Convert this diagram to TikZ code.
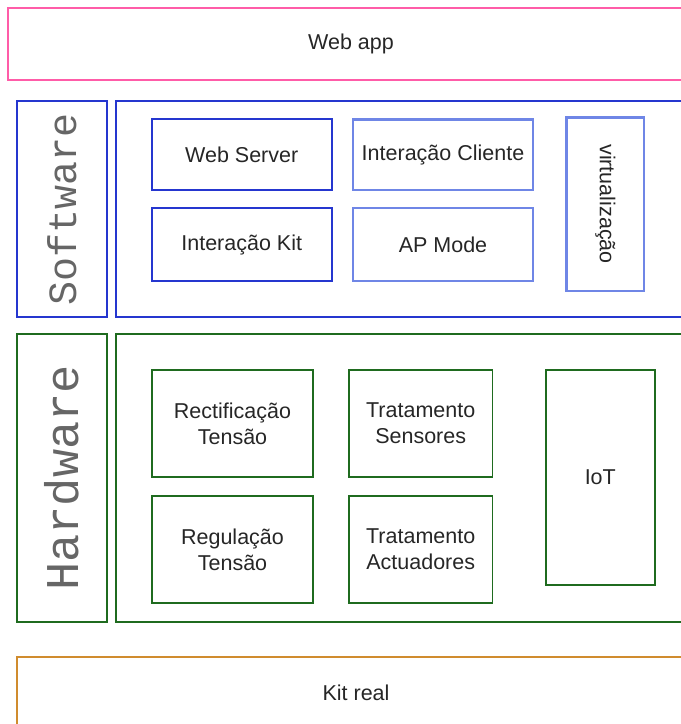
\documentclass[tikz,border=0pt]{standalone}
\usepackage{fontspec}
\setmainfont{Liberation Sans}
\newfontfamily\monolabel{Liberation Mono}

\definecolor{appPink}{HTML}{FF5CA8}
\definecolor{swBlue}{HTML}{2536CF}
\definecolor{swLight}{HTML}{6F86E6}
\definecolor{hwGreen}{HTML}{1F6B1F}
\definecolor{kitOrange}{HTML}{D08C2E}
\definecolor{txtGray}{HTML}{262626}

\tikzset{
  layer/.style={draw,line width=1.8pt,inner sep=0pt,text=txtGray,
    font=\fontsize{21.5}{26}\selectfont,align=center},
  swbox/.style={layer,draw=swBlue},
  swsoft/.style={layer,draw=swLight,line width=2.4pt},
  hwbox/.style={layer,draw=hwGreen},
  sidelabel/.style={inner sep=0pt,text=black!60,rotate=90},
}

\begin{document}
\begin{tikzpicture}[x=1pt,y=-1pt]
  \useasboundingbox (0,0) rectangle (681,724);
  \clip (0,0) rectangle (681,724);

  % top and bottom layers
  \node[layer,draw=appPink,line width=2pt,minimum width=686,minimum height=72] (webapp) at (351,44) {Web app};
  \node[layer,draw=kitOrange,minimum width=678,minimum height=72] (kitreal) at (356,693) {Kit real};

  % software
  \node[swbox,minimum width=90.6,minimum height=215.6] (swlabel) at (62,209) {};
  \node[sidelabel,font=\monolabel\fontsize{40}{40}\selectfont] at (swlabel.center) {Software};
  \node[swbox,minimum width=580,minimum height=215.6] (swarea) at (406,209) {};
  \node[swbox,minimum width=180,minimum height=70.7] (webserver) at (241.7,154.7) {Web Server};
  \node[swsoft,minimum width=180,minimum height=70.7] (cliente) at (443,154.7) {Interação Cliente};
  \node[swbox,minimum width=180,minimum height=72.5] (interkit) at (241.7,244.5) {Interação Kit};
  \node[swsoft,minimum width=180,minimum height=72.5] (apmode) at (443,244.5) {AP Mode};
  \node[swsoft,minimum width=77.3,minimum height=173.4] (virt) at (605.3,204) {};
  \node[text=txtGray,rotate=-90,font=\fontsize{21.5}{26}\selectfont] at (virt.center) {virtualização};

  % hardware
  \node[hwbox,minimum width=90.6,minimum height=287.7] (hwlabel) at (62,477.8) {};
  \node[sidelabel,font=\monolabel\fontsize{47}{47}\selectfont] at (hwlabel.center) {Hardware};
  \node[hwbox,minimum width=580,minimum height=287.7] (hwarea) at (406,477.8) {};
  \node[hwbox,minimum width=161.6,minimum height=107] (rectif) at (232.5,423.5) {Rectificação\\Tensão};
  \node[hwbox,minimum width=143.5,minimum height=107] (sensores) at (420.7,423.5) {Tratamento\\Sensores};
  \node[hwbox,minimum width=161.6,minimum height=107.6] (regul) at (232.5,549.5) {Regulação\\Tensão};
  \node[hwbox,minimum width=143.5,minimum height=107.6] (actuad) at (420.7,549.5) {Tratamento\\Actuadores};
  \node[hwbox,minimum width=108.7,minimum height=215] (iot) at (600.3,477.7) {IoT};
\end{tikzpicture}
\end{document}
